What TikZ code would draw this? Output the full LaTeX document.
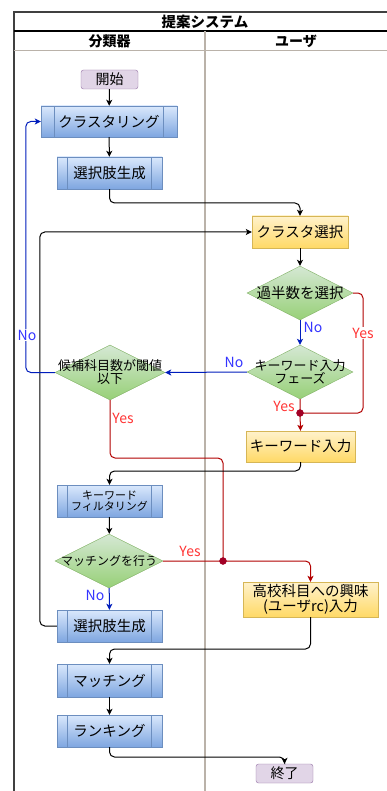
\documentclass[tikz,border=0pt]{standalone}
\usepackage{fontspec}
\setmainfont{Noto Sans CJK JP}
\usetikzlibrary{shapes.geometric,arrows.meta,calc}
\definecolor{procT}{HTML}{DAE8FC}
\definecolor{procB}{HTML}{7EA6E0}
\definecolor{procD}{HTML}{6C8EBF}
\definecolor{userT}{HTML}{FFF2CC}
\definecolor{userB}{HTML}{FFD966}
\definecolor{userD}{HTML}{D6B656}
\definecolor{decT}{HTML}{D5E8D4}
\definecolor{decB}{HTML}{97D077}
\definecolor{decD}{HTML}{82B366}
\definecolor{termF}{HTML}{E1D5E7}
\definecolor{termD}{HTML}{9673A6}
\definecolor{yesLine}{HTML}{B20000}
\definecolor{yesText}{HTML}{FF3333}
\definecolor{noLine}{HTML}{001DBC}
\definecolor{noText}{HTML}{3333FF}
\definecolor{laneLine}{HTML}{BAB2A9}
\definecolor{dotRed}{HTML}{A20025}
\tikzset{
  fs/.style={font=\fontsize{#1}{#1}\selectfont},
  termbox/.style={draw=termD, fill=termF, rounded corners=2.5pt, minimum width=57pt, minimum height=19pt, inner sep=0pt, fs=14},
  proc/.style={draw=procD, top color=procT, bottom color=procB, minimum width=105pt, minimum height=32pt, inner sep=0pt, align=center, fs=14.5,
    path picture={
      \draw[procD] ($(path picture bounding box.south west)!0.1!(path picture bounding box.south east)$) -- ($(path picture bounding box.north west)!0.1!(path picture bounding box.north east)$);
      \draw[procD] ($(path picture bounding box.south west)!0.9!(path picture bounding box.south east)$) -- ($(path picture bounding box.north west)!0.9!(path picture bounding box.north east)$);
    }},
  userbox/.style={draw=userD, top color=userT, bottom color=userB, inner sep=0pt, align=center, fs=14.5},
  dec/.style={diamond, draw=decD, top color=decT, bottom color=decB, inner sep=0pt, aspect=2},
  conn/.style={line width=1pt, rounded corners=5pt},
  arr/.style={conn, -{Stealth[length=6pt,width=6pt,inset=1.5pt]}},
  yesl/.style={draw=yesLine},
  nol/.style={draw=noLine},
  yeslab/.style={text=yesText, fs=14, inner sep=1pt},
  nolab/.style={text=noText, fs=14, inner sep=1pt},
  junc/.style={circle, fill=dotRed, draw=dotRed, inner sep=0pt, minimum size=7pt},
}
\begin{document}
\begin{tikzpicture}[x=1pt,y=-1pt]
\path[use as bounding box, fill=white] (0,0) rectangle (387,791);
% pool
\draw[line width=1.3pt, draw=black!75] (14,791) -- (14,12) -- (387,12);
\draw[line width=1.2pt] (14,31) -- (387,31);
\draw[line width=1pt, draw=laneLine] (14,51) -- (387,51);
\draw[line width=1.2pt, draw=laneLine] (205,31) -- (205,791);
\node[font=\bfseries\fontsize{14.5}{14.5}\selectfont] (title) at (205,21.5) {提案システム};
\node[font=\bfseries\fontsize{14}{14}\selectfont] (laneA) at (109.5,41) {分類器};
\node[font=\bfseries\fontsize{14}{14}\selectfont] (laneB) at (296,41) {ユーザ};

% nodes
\node[termbox] (start) at (109.5,79.5) {開始};
\node[proc, minimum width=136pt, minimum height=31pt] (clust) at (109,121.5) {クラスタリング};
\node[proc] (gen1) at (109.5,173) {選択肢生成};
\node[userbox, minimum width=96pt, minimum height=32pt] (csel) at (300,232) {クラスタ選択};
\node[dec, minimum width=106pt, minimum height=54pt, label={[fs=14.5]center:過半数を選択}] (major) at (300,293) {};
\node[dec, minimum width=106pt, minimum height=54pt, label={[fs=13,align=center]center:キーワード入力\\フェーズ}] (kwph) at (300,372) {};
\node[dec, minimum width=110pt, minimum height=55pt, label={[fs=13,align=center]center:候補科目数が閾値\\以下}] (cand) at (110,372.5) {};
\node[userbox, minimum width=109pt, minimum height=31pt] (kwin) at (300.5,446.5) {キーワード入力};
\node[proc, fs=11] (filt) at (109.5,501) {キーワード\\フィルタリング};
\node[dec, minimum width=108pt, minimum height=54pt, label={[fs=12]center:マッチングを行う}] (matq) at (109,561) {};
\node[userbox, minimum width=135pt, minimum height=35pt] (kou) at (310.5,599.5) {高校科目への興味\\(ユーザrc)入力};
\node[proc] (gen2) at (109.5,626) {選択肢生成};
\node[proc, minimum height=33pt] (match) at (109.5,680.5) {マッチング};
\node[proc] (rank) at (109.5,731) {ランキング};
\node[termbox] (end) at (284.5,773.5) {終了};

\coordinate (j1) at (300,413);
\coordinate (j2) at (223,561);

% connectors
\draw[arr] (start) -- (clust);
\draw[arr] (clust) -- (gen1);
\draw[arr] (gen1.south) -- (109.5,203) -| (csel.north);
\draw[arr] (gen2.west) -| ([xshift=-212pt]csel.west) -- (csel.west);
\draw[arr] (csel) -- (major);
\draw[conn, yesl] (major.east) -| (363,413) -- (j1);
\node[yeslab, fill=white] (yes1) at (363,333) {Yes};
\draw[arr, nol] (major) -- (kwph);
\node[nolab] (no1) at (313,327) {No};
\draw[arr, yesl] (kwph.south) -- (j1) -- (kwin.north);
\node[yeslab] (yes2) at (284,406) {Yes};
\draw[arr, nol] (kwph.west) -- (cand.east);
\node[nolab] (no2) at (234,362) {No};
\draw[arr, nol] (cand.west) -| ([xshift=-15pt]clust.west) -- (clust.west);
\node[nolab, fill=white] (no3) at (27,335) {No};
\draw[conn, yesl] (cand.south) -- (110,458) -| (j2);
\node[yeslab] (yes3) at (123,418) {Yes};
\draw[arr] (kwin.south) -- (300.5,471) -| (filt.north);
\draw[arr] (filt) -- (matq);
\draw[arr, yesl] (matq.east) -- (j2) -| (kou.north);
\node[yeslab] (yes4) at (190,551) {Yes};
\draw[arr, nol] (matq) -- (gen2);
\node[nolab] (no4) at (95,595) {No};
\draw[arr] (kou.south) -- (310.5,649) -| (match.north);
\draw[arr] (match) -- (rank);
\draw[arr] (rank.south) -- (109.5,757) -| (end.north);
\node[junc] (dot1) at (j1) {};
\node[junc] (dot2) at (j2) {};
\end{tikzpicture}
\end{document}
